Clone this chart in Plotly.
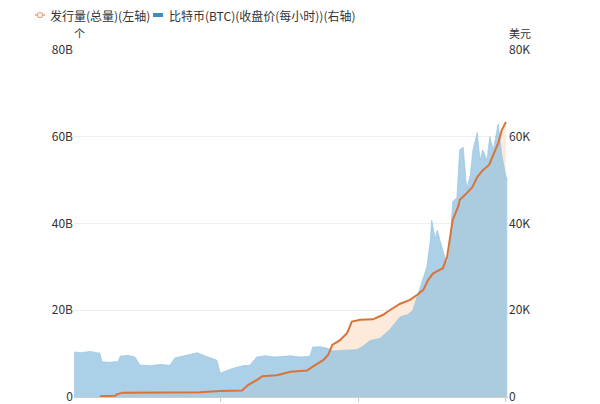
import plotly.graph_objects as go

# BTC hourly close (thousand USD), day offsets from start
btc_days = [0, 9, 23, 37, 40, 51, 63, 66, 77, 87, 94, 109, 123, 137, 144, 159, 176, 187, 197, 204,
            209, 216, 227, 241, 251, 261, 273, 287, 309, 323, 337, 341, 351, 361, 370, 387, 404, 411,
            423, 437, 451, 466, 477, 484, 490, 497, 504, 509, 511, 516, 519, 523, 527, 533, 537, 541,
            547, 551, 556, 561, 566, 570, 576, 580, 584, 590, 594, 599, 606, 611, 616, 619]
btc_price_k = [10.4, 10.2, 10.5, 10.1, 8.1, 8.0, 8.2, 9.4, 9.6, 9.2, 7.4, 7.2, 7.5, 7.3, 9.0, 9.6, 10.2, 9.5, 9.0, 8.5,
               5.5, 6.0, 6.6, 7.2, 7.3, 9.2, 9.5, 9.2, 9.5, 9.2, 9.4, 11.5, 11.6, 11.3, 10.6, 10.8, 10.9, 11.5,
               13.0, 13.5, 15.5, 18.5, 19.0, 20.0, 23.0, 27.0, 30.0, 36.0, 40.8, 36.5, 38.5, 36.0, 34.0, 30.5, 34.0, 45.0,
               46.0, 57.0, 57.6, 48.0, 51.0, 57.0, 61.0, 54.6, 57.0, 54.6, 60.0, 57.0, 63.0, 56.0, 51.6, 50.0]

# Total issuance (billions)
sup_days = [37, 59, 61, 70, 180, 209, 240, 249, 261, 269, 290, 309, 323, 333, 341, 356, 363, 369, 380, 390,
            397, 409, 427, 441, 451, 466, 480, 490, 499, 506, 513, 527, 533, 537, 541, 549, 551, 561, 569,
            576, 584, 593, 600, 606, 611, 616, 617]
supply_b = [0.2, 0.3, 0.6, 1.0, 1.1, 1.4, 1.5, 2.8, 3.9, 4.8, 5.0, 5.8, 6.0, 6.1, 7.0, 8.5, 9.7, 12.0, 13.1, 14.7,
            17.4, 17.8, 17.9, 18.9, 20.0, 21.5, 22.4, 23.5, 24.7, 27.0, 28.5, 29.7, 32.3, 37.0, 40.8, 44.0, 45.4, 47.0, 48.4,
            50.7, 52.3, 53.5, 56.2, 58.5, 61.5, 63.1, 63.4]

left_ticks = [0, 20, 40, 60, 80]
left_labels = ["0", "20B", "40B", "60B", "80B"]
right_labels = ["0", "20K", "40K", "60K", "80K"]
x_ticks = [209, 407, 616]
series_names = ["发行量(总量)(左轴)", "比特币(BTC)(收盘价(每小时))(右轴)"]
left_unit = "个"
right_unit = "美元"

FONT = "Noto Sans CJK SC, Noto Sans, sans-serif"
ORANGE = "#d8743a"
fig = go.Figure()

# supply area fill (under the price area)
fig.add_trace(go.Scatter(
    x=sup_days, y=supply_b, mode="none", fill="tozeroy",
    fillcolor="rgb(253,234,218)", yaxis="y", showlegend=False, hoverinfo="skip"))

# BTC price area (right axis, same 0-80 scale)
fig.add_trace(go.Scatter(
    x=btc_days, y=btc_price_k, mode="lines", fill="tozeroy",
    line=dict(color="rgba(155,198,226,0.9)", width=0.8),
    fillcolor="rgba(145,193,224,0.76)", yaxis="y", showlegend=False, hoverinfo="skip",
    name=series_names[1]))

# supply line on top
fig.add_trace(go.Scatter(
    x=sup_days, y=supply_b, mode="lines",
    line=dict(color=ORANGE, width=2),
    yaxis="y", showlegend=False, name=series_names[0]))

# dummy trace to activate right axis
fig.add_trace(go.Scatter(x=[None], y=[None], yaxis="y2", showlegend=False, hoverinfo="skip"))

# geometry helpers (figure pixels -> paper)
L, T, PW, PH = 66, 42, 434, 347
def px(fx):
    return (fx - L) / PW
def py(fy):
    return (T + PH - fy) / PH

leg_y = 7
shapes = [
    dict(type="line", xref="paper", yref="paper", x0=px(27), x1=px(37), y0=py(leg_y), y1=py(leg_y),
         line=dict(color="#e6a578", width=1.5)),
    dict(type="circle", xref="paper", yref="paper", x0=px(29.5), x1=px(34.5), y0=py(leg_y + 2.5), y1=py(leg_y - 2.5),
         line=dict(color="#e6a578", width=1.2), fillcolor="white"),
    dict(type="rect", xref="paper", yref="paper", x0=px(145), x1=px(155), y0=py(leg_y + 2), y1=py(leg_y - 2),
         line=dict(width=0), fillcolor="#3a8fc2"),
]

annotations = [
    dict(text=series_names[0], xref="paper", yref="paper", x=px(40), y=py(leg_y), xanchor="left", yanchor="middle",
         showarrow=False, font=dict(size=12, color="#333")),
    dict(text=series_names[1], xref="paper", yref="paper", x=px(159), y=py(leg_y), xanchor="left", yanchor="middle",
         showarrow=False, font=dict(size=12, color="#333")),
    dict(text=left_unit, xref="paper", yref="paper", x=px(71), y=py(25), xanchor="center", yanchor="middle",
         showarrow=False, font=dict(size=11, color="#333")),
    dict(text=right_unit, xref="paper", yref="paper", x=px(512), y=py(25), xanchor="center", yanchor="middle",
         showarrow=False, font=dict(size=11, color="#333")),
]

fig.update_layout(
    width=600, height=404,
    margin=dict(l=L, r=600 - L - PW, t=T, b=404 - T - PH, autoexpand=False),
    paper_bgcolor="white", plot_bgcolor="white",
    font=dict(family=FONT, size=12, color="#333"),
    showlegend=False,
    xaxis=dict(range=[0, 620], showgrid=False, zeroline=False, showline=True,
               linecolor="#cccccc", linewidth=1, ticks="outside", ticklen=4,
               tickcolor="#cccccc", tickvals=x_ticks, showticklabels=False),
    yaxis=dict(side="left", range=[0, 80], tickvals=left_ticks, ticktext=left_labels,
               showgrid=True, gridcolor="#eeeeee", zeroline=False, showline=False,
               tickfont=dict(size=12, color="#333"), ticks="", layer="below traces"),
    yaxis2=dict(side="right", overlaying="y", range=[0, 80], tickvals=left_ticks, ticktext=right_labels,
                showgrid=False, zeroline=False, showline=False,
                tickfont=dict(size=12, color="#333"), ticks=""),
    shapes=shapes,
    annotations=annotations,
)

fig.write_html("out.html")
